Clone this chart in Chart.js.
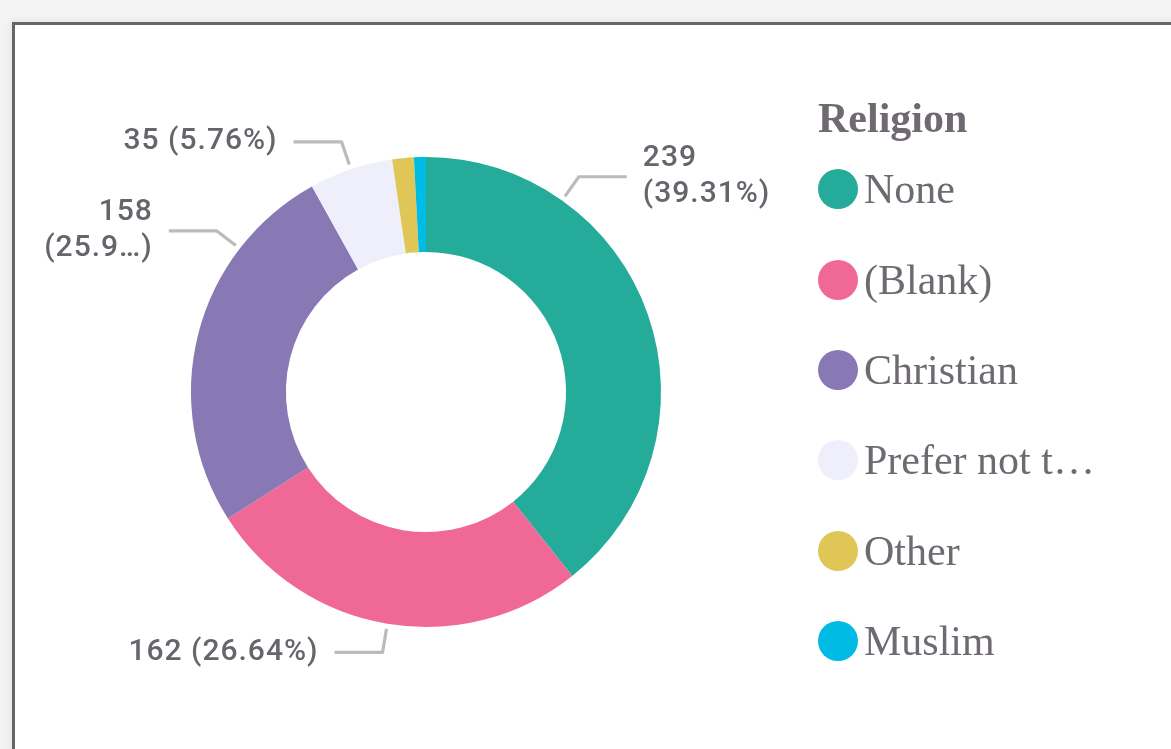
<!DOCTYPE html>
<html>
<head>
<meta charset="utf-8">
<script src="https://cdn.jsdelivr.net/npm/chart.js@4"></script>
<style>
  html, body { margin: 0; padding: 0; }
  body { width: 1171px; height: 749px; overflow: hidden; background: #f3f3f3; position: relative; font-family: 'Liberation Serif', serif; }
  .frame { position: absolute; left: 12px; top: 22px; width: 1250px; height: 800px; background: #fff; border: 3px solid #666; box-shadow: 0 0 8px rgba(0,0,0,0.08); }
  #chart { position: absolute; left: 0; top: 0; }
  .legend { position: absolute; left: 818px; top: 92px; color: #6f6a72; }
  .legend h3 { margin: 0; font-size: 42px; font-weight: bold; line-height: 52px; }
  .legend .item { display: flex; align-items: center; height: 90.4px; font-size: 42px; }
  .legend .dot { width: 40px; height: 40px; border-radius: 50%; margin: 0 6px 0 0; flex: none; }
  .legend .txt { max-width: 240px; white-space: nowrap; overflow: hidden; text-overflow: ellipsis; line-height: 52px; }
</style>
</head>
<body>
<div class="frame"></div>
<canvas id="chart" width="1171" height="749"></canvas>
<div class="legend" id="legend"></div>

<script>
// ── DATA ──
const legendTitle = 'Religion';
const categories = ['None', '(Blank)', 'Christian', 'Prefer not to say', 'Other', 'Muslim'];
const counts = [239, 162, 158, 35, 9, 5];
const colors = ['#24ab99', '#f06896', '#8878b3', '#efeefb', '#e0c656', '#00bce5'];

const textColor = '#67646c';
const leaderColor = '#bbbbbb';

// ── DATA LABELS with leader lines ──
// anchor: where along the slice the leader line starts (0..1), null = no label
const leaderLabels = {
  id: 'leaderLabels',
  afterDatasetsDraw(chart, args, opts) {
    const { ctx } = chart;
    const meta = chart.getDatasetMeta(0);
    const data = chart.data.datasets[0].data;
    const total = data.reduce((a, b) => a + b, 0);

    ctx.save();
    ctx.font = opts.font;
    ctx.letterSpacing = opts.letterSpacing;
    ctx.textBaseline = 'middle';

    meta.data.forEach((arc, i) => {
      const frac = opts.anchors[i];
      if (frac == null) return;
      const { x, y, startAngle, endAngle, outerRadius } = arc.getProps(['x', 'y', 'startAngle', 'endAngle', 'outerRadius'], true);
      const a = startAngle + frac * (endAngle - startAngle);
      const side = Math.cos(a) >= 0 ? 1 : -1;

      const p0 = { x: x + (outerRadius + 5) * Math.cos(a), y: y + (outerRadius + 5) * Math.sin(a) };
      const p1 = { x: x + (outerRadius + 29) * Math.cos(a), y: y + (outerRadius + 29) * Math.sin(a) };
      const p2 = { x: p1.x + side * 48, y: p1.y };

      ctx.strokeStyle = leaderColor;
      ctx.lineWidth = 3.2;
      ctx.lineJoin = 'round';
      ctx.beginPath();
      ctx.moveTo(p0.x, p0.y);
      ctx.lineTo(p1.x, p1.y);
      ctx.lineTo(p2.x, p2.y);
      ctx.stroke();

      const tx = p2.x + side * 16;
      const maxW = side > 0 ? opts.rightBound - tx : tx - opts.leftBound;
      const pct = (data[i] / total * 100).toFixed(2);
      const lines = fitLines(ctx, String(data[i]), pct, maxW);

      ctx.fillStyle = textColor;
      ctx.textAlign = side > 0 ? 'left' : 'right';
      const lh = 36;
      const y0 = p2.y - (lines.length - 1) * lh / 2;
      lines.forEach((t, k) => ctx.fillText(t, tx, y0 + k * lh));
    });
    ctx.restore();
  }
};

function fitLines(ctx, val, pct, maxW) {
  const full = `${val} (${pct}%)`;
  if (ctx.measureText(full).width <= maxW) return [full];
  let p = `${pct}%`;
  let second = `(${p})`;
  while (ctx.measureText(second).width > maxW && p.length > 1) {
    p = p.slice(0, -1);
    second = `(${p}…)`;
  }
  return [val, second];
}

// ── CHART ──
const chart = new Chart(document.getElementById('chart'), {
  type: 'doughnut',
  data: {
    labels: categories,
    datasets: [{
      data: counts,
      backgroundColor: colors,
      borderWidth: 0,
    }]
  },
  options: {
    responsive: false,
    animation: false,
    cutout: '59.6%',
    layout: { padding: { left: 191, top: 157, right: 510, bottom: 122 } },
    plugins: {
      legend: { display: false },
      tooltip: { enabled: false },
      leaderLabels: {
        anchors: [0.25, 0.5, 0.75, 0.5, null, null],
        font: '500 30px Roboto',
        letterSpacing: '1px',
        leftBound: 40,
        rightBound: 808,
      }
    }
  },
  plugins: [leaderLabels]
});

// ── LEGEND ──
const legend = document.getElementById('legend');
legend.innerHTML = `<h3>${legendTitle}</h3>` + chart.data.labels.map((l, i) =>
  `<div class="item"><span class="dot" style="background:${chart.data.datasets[0].backgroundColor[i]}"></span><span class="txt">${l}</span></div>`
).join('');
</script>
</body>
</html>
